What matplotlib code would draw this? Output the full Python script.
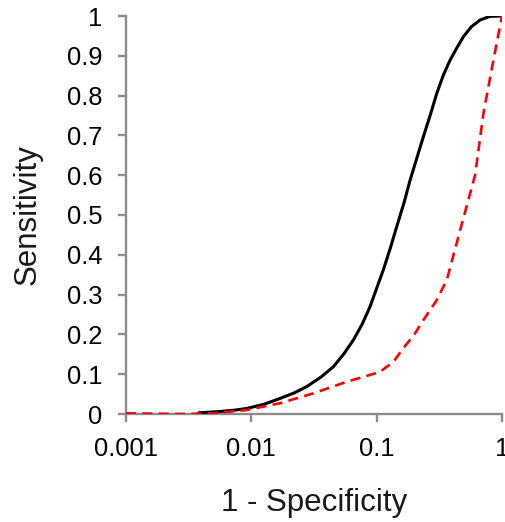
import matplotlib.pyplot as plt

plt.rcParams['font.family'] = ['Liberation Sans', 'DejaVu Sans']

# solid black curve
fpr_black = [0.0038, 0.0055, 0.0075, 0.0092, 0.0125, 0.0169, 0.022, 0.0277, 0.036, 0.0452, 0.055,
             0.0652, 0.077, 0.0886, 0.100, 0.113, 0.128, 0.1446, 0.165, 0.185, 0.21, 0.236, 0.27,
             0.302, 0.34, 0.385, 0.44, 0.492, 0.57, 0.669, 0.80, 1.0]
sens_black = [0.003, 0.006, 0.010, 0.014, 0.024, 0.039, 0.053, 0.069, 0.093, 0.119, 0.152,
              0.186, 0.227, 0.27, 0.316, 0.362, 0.415, 0.471, 0.530, 0.588, 0.645, 0.697, 0.755,
              0.806, 0.851, 0.889, 0.922, 0.948, 0.973, 0.990, 0.999, 1.0]

# dashed red curve
fpr_red = [0.001, 0.0015, 0.002, 0.003, 0.005, 0.0092, 0.0169, 0.0313, 0.0577, 0.0800, 0.1064,
           0.136, 0.163, 0.20, 0.236, 0.30, 0.363, 0.464, 0.61, 0.711, 0.854, 1.0]
sens_red = [0.002, 0.001, 0.0005, 0.0, 0.002, 0.010, 0.027, 0.052, 0.081, 0.094, 0.106,
            0.131, 0.165, 0.20, 0.236, 0.285, 0.337, 0.462, 0.60, 0.755, 0.889, 1.0]

xticks = [0.001, 0.01, 0.1, 1]
xtick_labels = ["0.001", "0.01", "0.1", "1"]
yticks = [0, 0.1, 0.2, 0.3, 0.4, 0.5, 0.6, 0.7, 0.8, 0.9, 1]
ytick_labels = ["0", "0.1", "0.2", "0.3", "0.4", "0.5", "0.6", "0.7", "0.8", "0.9", "1"]

fig = plt.figure(figsize=(5.06, 5.22), dpi=100)
ax = fig.add_axes([126/506, 108/522, 376/506, 398/522])

ax.plot(fpr_black, sens_black, color="black", lw=2.2, solid_joinstyle="round",
        solid_capstyle="round", zorder=3)
ax.plot(fpr_red, sens_red, color="#ff0000", lw=1.9, dashes=(3.8, 2.4), zorder=4)

ax.set_xscale("log")
ax.set_xlim(0.001, 1)
ax.set_ylim(0, 1)
ax.set_xticks(xticks)
ax.set_xticklabels(xtick_labels)
ax.minorticks_off()
ax.set_yticks(yticks)
ax.set_yticklabels(ytick_labels)

grey = "#8c8c8c"
for s in ["top", "right"]:
    ax.spines[s].set_visible(False)
for s in ["left", "bottom"]:
    ax.spines[s].set_color(grey)
    ax.spines[s].set_linewidth(1.7)
ax.tick_params(axis="both", colors=grey, width=1.7, length=5.8, labelsize=18.4,
               labelcolor="black", direction="out")
ax.tick_params(axis="x", pad=11)
ax.tick_params(axis="y", pad=11)

ax.set_xlabel("1 - Specificity", fontsize=22.5, labelpad=19, color="#1a1a1a")
ax.set_ylabel("Sensitivity", fontsize=22.5, labelpad=18, color="#1a1a1a")

fig.savefig("out.png", dpi=100)
